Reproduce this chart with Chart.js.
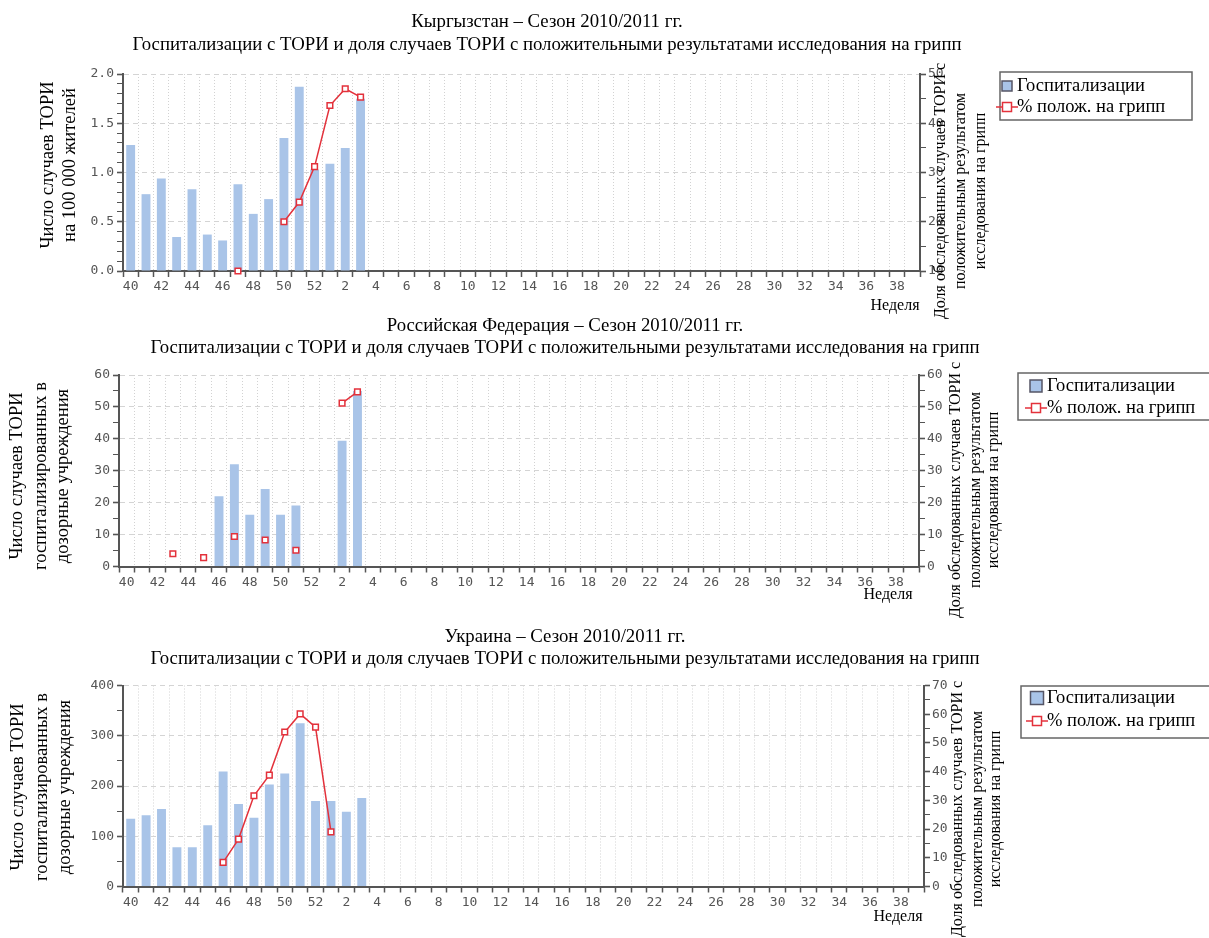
<!DOCTYPE html>
<html>
<head>
<meta charset="utf-8">
<script src="https://cdn.jsdelivr.net/npm/chart.js@4.4.1/dist/chart.umd.min.js"></script>
<style>
html,body{margin:0;padding:0;background:#fff;}
#wrap{position:relative;width:1209px;height:938px;overflow:hidden;}
#wrap canvas{position:absolute;left:0;top:0;}
</style>
</head>
<body>
<div id="wrap">
<canvas id="c1" width="1209" height="938"></canvas>
<canvas id="c2" width="1209" height="938"></canvas>
<canvas id="c3" width="1209" height="938"></canvas>
</div>
<script>
// ---------- DATA ----------
const weeks = ['40','41','42','43','44','45','46','47','48','49','50','51','52',
  '1','2','3','4','5','6','7','8','9','10','11','12','13','14','15','16','17','18','19','20',
  '21','22','23','24','25','26','27','28','29','30','31','32','33','34','35','36','37','38','39'];

// Kyrgyzstan: hospitalisations per 100 000 and % positive
const kgHosp = [1.28, 0.78, 0.94, 0.345, 0.83, 0.37, 0.31, 0.88, 0.58, 0.73, 1.35, 1.87, 1.03, 1.09, 1.25, 1.75];
const kgPos  = [null, null, null, null, null, null, null, 10, null, null, 20, 24, 31.2, 43.6, 47, 45.3];

// Russian Federation
const ruHosp = [null, null, null, null, null, null, 22, 32, 16.2, 24.3, 16.2, 19.1, null, null, 39.4, 55];
const ruPos  = [null, null, null, 4, null, 2.8, null, 9.4, null, 8.3, null, 5.1, null, null, 51.2, 54.7];

// Ukraine
const uaHosp = [135, 142, 154, 78, 78, 122, 229, 164, 137, 203, 225, 325, 170, 170, 149, 176];
const uaPos  = [null, null, null, null, null, null, 8.4, 16.5, 31.6, 38.8, 53.8, 60.1, 55.5, 19];

// ---------- TEXT ----------
const titleKG = 'Кыргызстан – Сезон 2010/2011 гг.';
const titleRU = 'Российская Федерация – Сезон 2010/2011 гг.';
const titleUA = 'Украина – Сезон 2010/2011 гг.';
const subTitle = 'Госпитализации с ТОРИ и доля случаев ТОРИ с положительными результатами исследования на грипп';
const yTitleKG = ['Число случаев ТОРИ', 'на 100 000 жителей'];
const yTitleHosp = ['Число случаев ТОРИ', 'госпитализированных в', 'дозорные учреждения'];
const y1Title = ['Доля обследованных случаев ТОРИ с', 'положительным результатом', 'исследования на грипп'];
const xTitle = 'Неделя';
const barLabel = 'Госпитализации';
const lineLabel = '% полож. на грипп';

// ---------- STYLE ----------
const BLUE = '#a9c4e8';
const RED = '#e3313b';
const AXIS = '#555555';
const SERIF = '"Liberation Serif", "Times New Roman", serif';
const TICKFONT = {family: '"DejaVu Sans Mono", monospace', size: 13};

const panelText = {
  id: 'panelText',
  afterDraw(chart, args, o) {
    const ctx = chart.ctx;
    ctx.save();
    ctx.fillStyle = '#000';
    ctx.textBaseline = 'middle';
    ctx.textAlign = 'center';
    // titles
    ctx.font = '18.8px ' + SERIF;
    o.title.forEach((t, i) => ctx.fillText(t, o.titleX, o.titleY[i]));
    // left axis title
    ctx.font = '18.5px ' + SERIF;
    o.left.lines.forEach((t, i) => {
      ctx.save(); ctx.translate(o.left.x[i], o.left.y); ctx.rotate(-Math.PI / 2);
      ctx.fillText(t, 0, 0); ctx.restore();
    });
    // right axis title
    ctx.font = '16px ' + SERIF;
    o.right.lines.forEach((t, i) => {
      ctx.save(); ctx.translate(o.right.x[i], o.right.y); ctx.rotate(-Math.PI / 2);
      ctx.fillText(t, 0, 0); ctx.restore();
    });
    // x axis title
    ctx.font = '16px ' + SERIF;
    ctx.fillText(xTitle, o.week.x, o.week.y);
    // legend
    const L = o.legend;
    ctx.fillStyle = '#fff';
    ctx.fillRect(L.x, L.y, L.w, L.h);
    ctx.strokeStyle = '#666';
    ctx.lineWidth = 1.5;
    ctx.strokeRect(L.x, L.y, L.w, L.h);
    const ds = chart.data.datasets;
    const barDs = ds.find(d => d.type === 'bar');
    const lineDs = ds.find(d => d.type === 'line');
    // bar swatch
    ctx.fillStyle = barDs.backgroundColor;
    ctx.fillRect(L.iconX - L.sq / 2, L.rows[0] - L.sq / 2, L.sq, L.sq);
    ctx.strokeStyle = '#556';
    ctx.lineWidth = 1.5;
    ctx.strokeRect(L.iconX - L.sq / 2, L.rows[0] - L.sq / 2, L.sq, L.sq);
    // line swatch
    ctx.strokeStyle = lineDs.borderColor;
    ctx.lineWidth = 1.5;
    ctx.beginPath();
    ctx.moveTo(L.iconX - 11, L.rows[1]);
    ctx.lineTo(L.iconX + 11, L.rows[1]);
    ctx.stroke();
    ctx.fillStyle = '#fff';
    ctx.fillRect(L.iconX - 4.5, L.rows[1] - 4.5, 9, 9);
    ctx.strokeRect(L.iconX - 4.5, L.rows[1] - 4.5, 9, 9);
    // legend texts
    ctx.fillStyle = '#000';
    ctx.textAlign = 'left';
    ctx.font = '18.5px ' + SERIF;
    ctx.fillText(barDs.label, L.textX, L.rows[0]);
    ctx.fillText(lineDs.label, L.textX, L.rows[1]);
    ctx.restore();
  }
};

function isMajor(v, major) {
  return Math.abs(v / major - Math.round(v / major)) < 1e-6;
}

function yAxis(pos, min, max, step, major, dec, width, onArea) {
  return {
    position: pos, min: min, max: max,
    afterFit(s) { s.width = width; },
    ticks: {
      stepSize: step, autoSkip: false, color: AXIS, font: TICKFONT, padding: pos === 'left' ? 3 : 2,
      callback: v => isMajor(v, major) ? v.toFixed(dec) : ''
    },
    grid: {
      drawOnChartArea: onArea,
      color: c => (c.tick && isMajor(c.tick.value, major)) ? '#d4d4d4' : 'rgba(0,0,0,0)',
      lineWidth: 1,
      tickColor: AXIS,
      tickLength: 6,
      tickWidth: c => (c.tick && isMajor(c.tick.value, major)) ? 1.6 : 1
    },
    border: {color: AXIS, width: 2, dash: [5, 4]}
  };
}

function makeChart(id, d) {
  return new Chart(document.getElementById(id), {
    data: {
      labels: weeks,
      datasets: [
        {type: 'line', label: lineLabel, data: d.pos, yAxisID: 'y1', order: 0,
         borderColor: RED, borderWidth: 1.5, tension: 0, spanGaps: false, clip: false,
         pointStyle: 'rect', pointRadius: 4, pointBackgroundColor: '#fff',
         pointBorderColor: RED, pointBorderWidth: 1.5},
        {type: 'bar', label: barLabel, data: d.hosp, yAxisID: 'y', order: 1,
         backgroundColor: BLUE, barPercentage: 0.58, categoryPercentage: 1}
      ]
    },
    options: {
      responsive: false, animation: false, devicePixelRatio: 1,
      layout: {padding: {left: 0, top: d.area.top, right: 1209 - d.area.right - 40, bottom: 938 - d.area.bottom - 30}},
      plugins: {legend: {display: false}, tooltip: {enabled: false}, title: {display: false}, panelText: d.text},
      scales: {
        x: {
          type: 'category', offset: true,
          afterFit(s) { s.height = 30; },
          grid: {offset: true, color: '#d2d2d2', lineWidth: 1, tickColor: AXIS, tickLength: 6, tickWidth: 1.5},
          border: {color: AXIS, width: 2, dash: [1, 2]},
          ticks: {
            autoSkip: false, maxRotation: 0, minRotation: 0, padding: 2, color: AXIS, font: TICKFONT,
            callback: function (v, i) { return i % 2 === 0 ? this.getLabelForValue(v) : ''; }
          }
        },
        y: yAxis('left', d.y.min, d.y.max, d.y.step, d.y.major, d.y.dec, d.area.left, true),
        y1: yAxis('right', d.y1.min, d.y1.max, d.y1.step, d.y1.major, 0, 40, false)
      }
    },
    plugins: [panelText]
  });
}

makeChart('c1', {
  hosp: kgHosp, pos: kgPos,
  area: {left: 123, right: 920, top: 74, bottom: 271},
  y: {min: 0, max: 2, step: 0.1, major: 0.5, dec: 1},
  y1: {min: 10, max: 50, step: 5, major: 10},
  text: {
    title: [titleKG, subTitle], titleX: 547, titleY: [22, 45],
    left: {lines: yTitleKG, x: [48, 70], y: 165},
    right: {lines: y1Title, x: [941, 961, 981], y: 191},
    week: {x: 895, y: 306},
    legend: {x: 1000, y: 72, w: 192, h: 48, rows: [86, 107], iconX: 1007, sq: 10, textX: 1017}
  }
});

makeChart('c2', {
  hosp: ruHosp, pos: ruPos,
  area: {left: 119, right: 919, top: 375, bottom: 566.5},
  y: {min: 0, max: 60, step: 5, major: 10, dec: 0},
  y1: {min: 0, max: 60, step: 5, major: 10},
  text: {
    title: [titleRU, subTitle], titleX: 565, titleY: [326, 348],
    left: {lines: yTitleHosp, x: [17, 41, 63], y: 476},
    right: {lines: y1Title, x: [956, 976, 994], y: 490},
    week: {x: 888, y: 595},
    legend: {x: 1018, y: 373, w: 200, h: 47, rows: [386, 408], iconX: 1036, sq: 12, textX: 1047}
  }
});

makeChart('c3', {
  hosp: uaHosp, pos: uaPos,
  area: {left: 123, right: 924, top: 685.5, bottom: 886.5},
  y: {min: 0, max: 400, step: 50, major: 100, dec: 0},
  y1: {min: 0, max: 70, step: 5, major: 10},
  text: {
    title: [titleUA, subTitle], titleX: 565, titleY: [637, 659],
    left: {lines: yTitleHosp, x: [18, 42, 65], y: 787},
    right: {lines: y1Title, x: [958, 978, 996], y: 809},
    week: {x: 898, y: 917},
    legend: {x: 1021, y: 686, w: 200, h: 52, rows: [698, 721], iconX: 1037, sq: 13, textX: 1047}
  }
});
</script>
</body>
</html>
